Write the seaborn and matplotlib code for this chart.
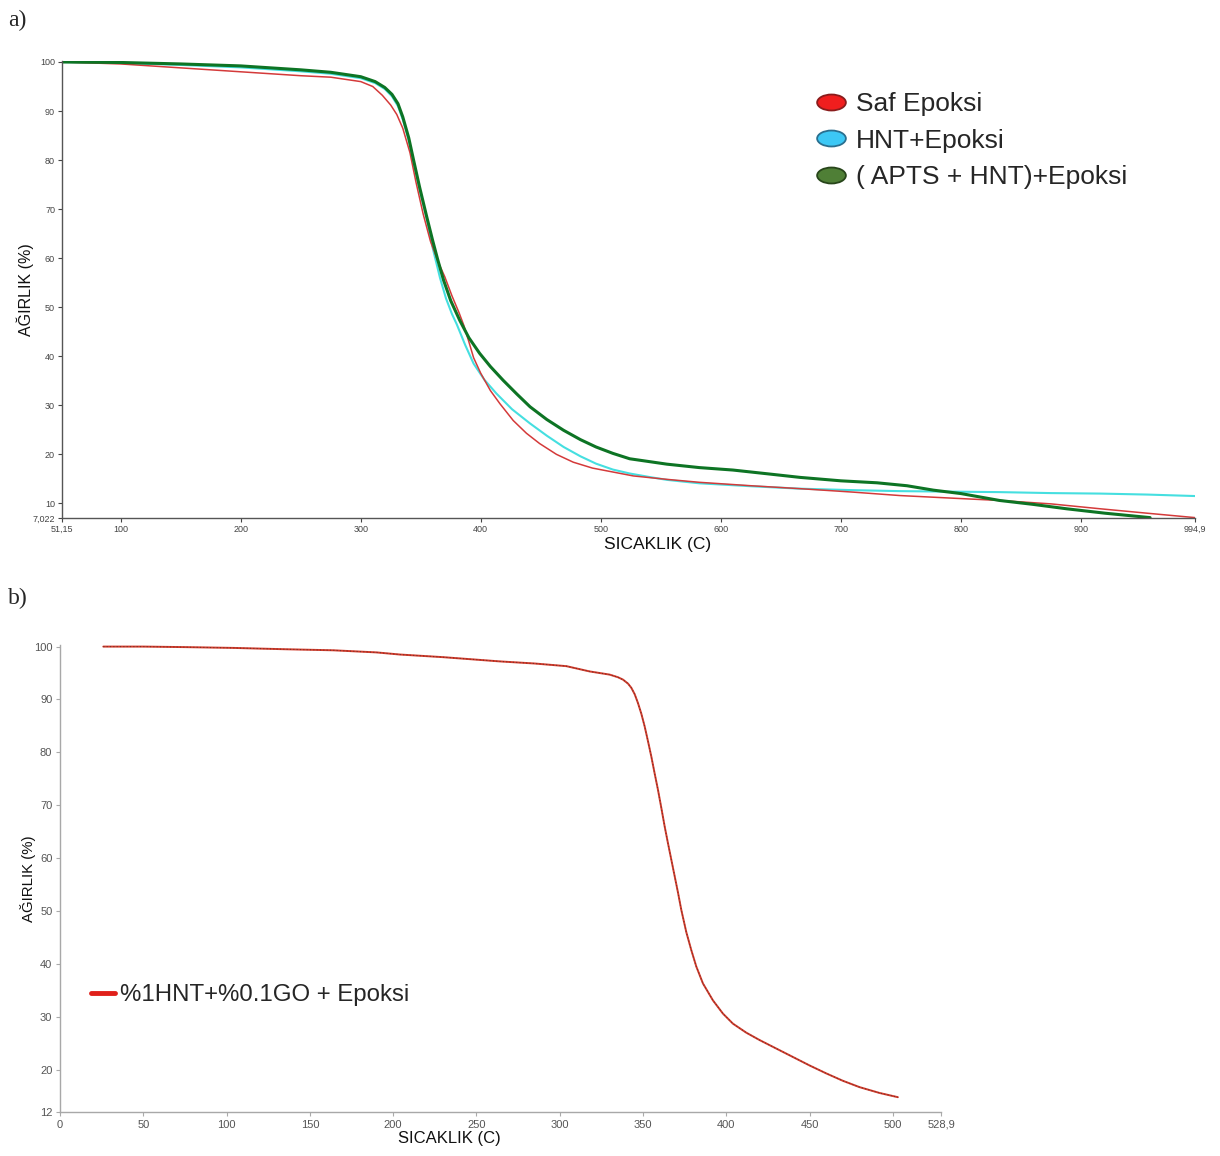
import numpy as np
import pandas as pd
import seaborn as sns
import matplotlib
matplotlib.use("Agg")
import matplotlib.pyplot as plt
from matplotlib.markers import MarkerStyle
from matplotlib.transforms import Affine2D
from matplotlib.lines import Line2D

# ---------------- data ----------------
# Panel a)
saf_T = [51.15, 100, 150, 200, 250, 275, 300, 310, 318, 325, 330, 335, 341, 346, 352, 358, 364, 370, 376,
         382, 386, 390, 394, 400, 408, 416, 427, 438, 449, 463, 477, 493, 510, 527, 555, 582, 625, 666,
         710, 749, 790, 832, 875, 916, 955, 994.9]
saf_W = [100, 99.6, 98.8, 98.0, 97.2, 96.9, 96.0, 95.0, 93.2, 91.2, 89.3, 86.5, 81.5, 75.5, 69.0, 63.5,
         59.5, 56.2, 52.3, 48.8, 46.2, 43.0, 39.7, 36.5, 33.0, 30.3, 26.9, 24.3, 22.2, 20.0, 18.4, 17.2,
         16.4, 15.6, 14.9, 14.3, 13.6, 13.0, 12.3, 11.6, 11.1, 10.6, 9.9, 8.9, 8.0, 7.1]

hnt_T = [51.15, 100, 150, 200, 250, 275, 300, 312, 320, 326, 331, 335, 340, 344, 349, 355, 360, 366, 371,
         376, 380, 387, 394, 403, 413, 426, 441, 455, 469, 483, 496, 510, 524, 540, 555, 582, 625, 666,
         710, 749, 790, 832, 875, 916, 955, 994.9]
hnt_W = [100, 99.8, 99.4, 98.9, 98.1, 97.6, 96.7, 95.7, 94.5, 93.0, 91.0, 88.3, 84.0, 79.5, 74.0, 68.0,
         62.0, 56.0, 51.8, 48.6, 46.5, 42.3, 38.5, 35.2, 32.4, 29.2, 26.3, 23.8, 21.5, 19.6, 18.1, 16.9,
         16.1, 15.4, 14.8, 14.1, 13.5, 13.0, 12.7, 12.5, 12.4, 12.3, 12.1, 12.0, 11.8, 11.5]

apts_T = [51.15, 100, 150, 200, 250, 275, 300, 312, 320, 326, 331, 335, 340, 344, 349, 355, 360, 364, 369,
          375, 382.5, 390, 399, 408, 418.6, 430, 441, 455, 469, 483, 496, 510, 524, 555, 582, 610, 640,
          666, 700, 730, 755, 777, 800, 832, 860, 888, 920, 957.5]
apts_W = [100, 99.9, 99.6, 99.2, 98.4, 97.9, 97.0, 96.0, 94.8, 93.4, 91.5, 88.8, 84.5, 80.0, 74.5, 68.4,
          63.5, 59.8, 55.5, 51.3, 47.3, 43.8, 40.6, 37.9, 35.1, 32.3, 29.7, 27.1, 24.9, 23.0, 21.5, 20.2,
          19.1, 18.0, 17.3, 16.8, 16.0, 15.3, 14.6, 14.2, 13.6, 12.7, 12.0, 10.6, 9.8, 8.9, 8.0, 7.1]

labels_a = ["Saf Epoksi", "HNT+Epoksi", "( APTS + HNT)+Epoksi"]
xticks_a = [51.15, 100, 200, 300, 400, 500, 600, 700, 800, 900, 994.9]
xticklabels_a = ["51,15", "100", "200", "300", "400", "500", "600", "700", "800", "900", "994,9"]
yticks_a = [7.022, 10, 20, 30, 40, 50, 60, 70, 80, 90, 100]
yticklabels_a = ["7,022", "10", "20", "30", "40", "50", "60", "70", "80", "90", "100"]

# Panel b)
go_T = [26, 50, 75, 104, 135, 164, 190, 204, 230, 264, 285, 304, 318, 330, 335, 338, 341, 343, 345, 347,
        349, 351, 353, 355, 357, 359, 361, 363, 365, 367, 369, 371, 373, 376, 379, 382, 386, 392, 398,
        404, 412, 420, 430, 440, 450, 460, 470, 480, 492, 503]
go_W = [100, 100, 99.9, 99.75, 99.5, 99.3, 98.9, 98.5, 98.0, 97.2, 96.8, 96.3, 95.3, 94.7, 94.2, 93.75,
        93.0, 92.2, 91.0, 89.3, 87.3, 84.9, 82.1, 79.2, 76.0, 72.9, 69.5, 66.0, 62.8, 59.7, 56.6, 53.5,
        50.2, 46.0, 42.6, 39.5, 36.3, 33.1, 30.6, 28.7, 27.0, 25.6, 24.0, 22.4, 20.8, 19.3, 17.9, 16.7,
        15.6, 14.8]
label_b = "%1HNT+%0.1GO + Epoksi"
xticks_b = [0, 50, 100, 150, 200, 250, 300, 350, 400, 450, 500, 528.9]
xticklabels_b = ["0", "50", "100", "150", "200", "250", "300", "350", "400", "450", "500", "528,9"]
yticks_b = [12, 20, 30, 40, 50, 60, 70, 80, 90, 100]
yticklabels_b = ["12", "20", "30", "40", "50", "60", "70", "80", "90", "100"]

xlabel = "SICAKLIK (C)"
ylabel = "AĞIRLIK (%)"

# ---------------- styling ----------------
sns.set_style("white")
plt.rcParams['font.family'] = ['Liberation Sans', 'DejaVu Sans']

fig = plt.figure(figsize=(12.2, 11.56), dpi=100)
W, H = 1220, 1156
axA = fig.add_axes([62 / W, 1 - 518 / H, (1195 - 62) / W, (518 - 61) / H])
axB = fig.add_axes([60 / W, 1 - 1112 / H, (941 - 60) / W, (1112 - 645) / H])

# ---------------- panel a ----------------
col_red, col_cyan, col_green = "#d43a3a", "#45dfe0", "#0d7424"
sns.lineplot(x=hnt_T, y=hnt_W, ax=axA, color=col_cyan, lw=1.5, sort=False, estimator=None)
sns.lineplot(x=saf_T, y=saf_W, ax=axA, color=col_red, lw=1.1, sort=False, estimator=None)
sns.lineplot(x=apts_T, y=apts_W, ax=axA, color=col_green, lw=2.2, sort=False, estimator=None)

axA.set_xlim(51.15, 994.9)
axA.set_ylim(7.022, 100.2)
axA.set_xticks(xticks_a)
axA.set_xticklabels(xticklabels_a)
axA.set_yticks(yticks_a)
axA.set_yticklabels(yticklabels_a)
axA.tick_params(axis="both", labelsize=6.5, colors="#444444", length=3, width=0.8, direction="out",
                bottom=True, left=True, pad=2)
for s in ["top", "right"]:
    axA.spines[s].set_visible(False)
for s in ["left", "bottom"]:
    axA.spines[s].set_color("#555555")
    axA.spines[s].set_linewidth(1.0)
axA.set_xlabel(xlabel, fontsize=12.5, color="#111111")
axA.set_ylabel(ylabel, fontsize=11.5, color="#111111")
axA.xaxis.set_label_coords((658 - 62) / (1195 - 62), -(537 - 518) / (518 - 61))
axA.yaxis.set_label_coords(-(62 - 34) / (1195 - 62), 0.5)

ell = MarkerStyle("o", transform=Affine2D().scale(1.8, 1.0))
handles_a = [
    Line2D([], [], ls="none", marker=ell, markersize=11.5, markerfacecolor="#f01e1e",
           markeredgecolor="#8a1c1c", markeredgewidth=1.3),
    Line2D([], [], ls="none", marker=ell, markersize=11.5, markerfacecolor="#3cc8f5",
           markeredgecolor="#2a6f8f", markeredgewidth=1.3),
    Line2D([], [], ls="none", marker=ell, markersize=11.5, markerfacecolor="#4f7f36",
           markeredgecolor="#27451a", markeredgewidth=1.3),
]
axA.legend(handles_a, labels_a, loc="upper left", bbox_to_anchor=(815 / W, 1 - 92 / H),
           bbox_transform=fig.transFigure, frameon=False, fontsize=19, handlelength=1.25,
           handletextpad=0.3, labelspacing=0.48, borderpad=0, borderaxespad=0)

# ---------------- panel b ----------------
sns.lineplot(x=go_T, y=go_W, ax=axB, color="#d23a2a", lw=1.4, sort=False, estimator=None)
sns.lineplot(x=go_T, y=go_W, ax=axB, color="#2a2a2a", lw=0.8, ls=(0, (1, 2)), alpha=0.55,
             sort=False, estimator=None)

axB.set_xlim(0, 528.9)
axB.set_ylim(12, 100.3)
axB.set_xticks(xticks_b)
axB.set_xticklabels(xticklabels_b)
axB.set_yticks(yticks_b)
axB.set_yticklabels(yticklabels_b)
axB.tick_params(axis="both", labelsize=8, colors="#555555", length=3, width=0.8, direction="out",
                bottom=True, left=True, pad=2.5)
axB.tick_params(axis="both", color="#aaaaaa")
for s in ["top", "right"]:
    axB.spines[s].set_visible(False)
for s in ["left", "bottom"]:
    axB.spines[s].set_color("#a8a8a8")
    axB.spines[s].set_linewidth(1.0)
axB.set_xlabel(xlabel, fontsize=12, color="#111111")
axB.set_ylabel(ylabel, fontsize=10.8, color="#111111")
axB.xaxis.set_label_coords((449 - 60) / (941 - 60), -(1131 - 1112) / (1112 - 645))
axB.yaxis.set_label_coords(-(60 - 36) / (941 - 60), 0.5)

handle_b = [Line2D([], [], color="#e0201a", lw=3.5)]
axB.legend(handle_b, [label_b], loc="upper left", bbox_to_anchor=(91 / W, 1 - 984 / H),
           bbox_transform=fig.transFigure, frameon=False, fontsize=17.3, handlelength=1.0,
           handletextpad=0.2, borderpad=0, borderaxespad=0)

# ---------------- panel letters ----------------
fig.text(8 / W, 1 - 10 / H, "a)", fontsize=17, family=["Liberation Serif", "DejaVu Serif"], va="top")
fig.text(8 / W, 1 - 588 / H, "b)", fontsize=17, family=["Liberation Serif", "DejaVu Serif"], va="top")

fig.savefig("out.png", dpi=100, facecolor="white")
